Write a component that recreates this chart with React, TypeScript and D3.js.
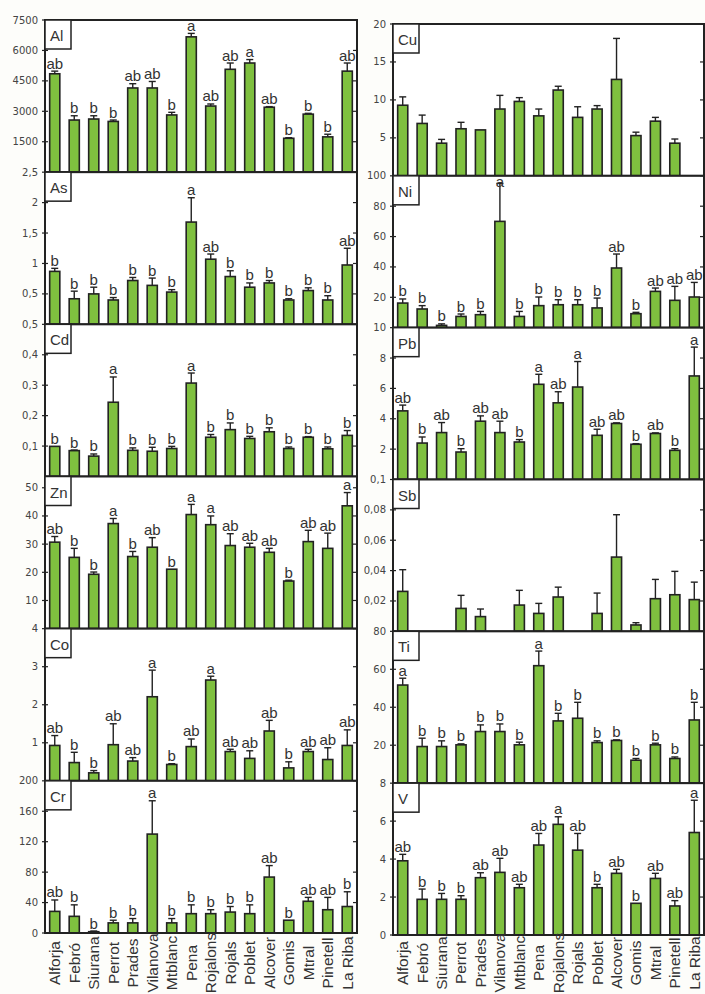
import React from "react";
import * as d3 from "d3";

const sites = ["Alforja","Febró","Siurana","Perrot","Prades","Vilanova","Mtblanc","Pena","Rojalons","Rojals","Poblet","Alcover","Gomis","Mtral","Pinetell","La Riba"];

// Left column
const alMean = [4850,2570,2620,2500,4150,4150,2820,6670,3260,5070,5380,3200,1670,2860,1740,4980];
const alSE = [130,210,160,70,210,320,130,170,100,310,170,30,30,40,130,400];
const alLet = ["ab","b","b","b","ab","ab","b","a","ab","ab","a","ab","b","b","b","ab"];
const alTicks = [1500,3000,4500,6000,7500];

const asMean = [0.87,0.42,0.5,0.4,0.72,0.64,0.53,1.68,1.07,0.785,0.61,0.68,0.4,0.555,0.4,0.975];
const asSE = [0.05,0.125,0.11,0.04,0.05,0.12,0.04,0.4,0.085,0.095,0.07,0.04,0.02,0.045,0.07,0.275];
const asLet = ["b","b","b","b","b","b","b","a","ab","b","b","b","b","b","b","ab"];
const asTicks = [0.5,1,1.5,2,2.5];

const cdMean = [0.099,0.085,0.067,0.244,0.086,0.083,0.092,0.307,0.129,0.154,0.125,0.147,0.092,0.129,0.091,0.135];
const cdSE = [0,0.002,0.007,0.083,0.008,0.013,0.007,0.033,0.009,0.022,0.007,0.013,0.005,0.002,0.006,0.016];
const cdLet = ["b","b","b","a","b","b","b","a","b","b","b","b","b","b","b","b"];
const cdTicks = [0.1,0.2,0.3,0.4,0.5];

const znMean = [30.7,25.3,19.3,37.3,25.6,28.9,21.1,40.5,36.9,29.5,28.9,27.1,16.9,30.9,28.5,43.6];
const znSE = [2,3.2,0.8,1.8,1.8,3.4,0,3.6,3.1,4.2,1.4,1.4,0.3,4,5.4,4.7];
const znLet = ["ab","b","b","a","b","ab","b","a","a","ab","ab","ab","b","ab","ab","a"];
const znTicks = [10,20,30,40,50];

const coMean = [0.93,0.48,0.21,0.95,0.52,2.21,0.43,0.9,2.65,0.77,0.59,1.31,0.34,0.77,0.56,0.93];
const coSE = [0.26,0.27,0.06,0.55,0.09,0.7,0.02,0.2,0.1,0.06,0.2,0.28,0.16,0.06,0.31,0.41];
const coLet = ["ab","b","b","ab","ab","a","b","ab","a","ab","ab","ab","b","ab","ab","ab"];
const coTicks = [1,2,3,4];

const crMean = [28.4,21.9,1.7,13.3,13.3,130,13.3,25.4,25.4,27.5,25.4,73.5,16.8,41.7,30.6,34.8];
const crSE = [15,15.1,0.9,3.5,5.7,43.8,5.7,11.6,5.2,7.3,11.6,15.1,0,5.1,16.2,19.4];
const crLet = ["ab","b","b","b","b","a","b","b","b","b","b","ab","b","ab","ab","b"];
const crTicks = [0,40,80,120,160,200];

// Right column
const cuMean = [9.3,6.9,4.3,6.2,6.05,8.8,9.8,7.9,11.3,7.7,8.8,12.7,5.3,7.2,4.3,null];
const cuSE = [1.1,1.1,0.5,0.85,0,1.8,0.5,0.9,0.5,1.4,0.45,5.4,0.45,0.5,0.55,null];
const cuTicks = [5,10,15,20];

const niMean = [16.2,12.3,1.5,7.4,8.55,70,7.4,14.5,15.1,15.1,13,39.3,9.2,23.9,18,20.2];
const niSE = [2.7,2.2,1,1.6,2.15,25,3.3,5.7,3.3,3.3,6.5,9.2,0.9,2.2,9.2,9.6];
const niLet = ["b","b","b","b","b","a","b","b","b","b","b","ab","b","ab","ab","ab"];
const niTicks = [20,40,60,80,100];

const pbMean = [4.52,2.4,3.09,1.81,3.84,3.09,2.47,6.27,5.05,6.09,2.91,3.69,2.32,3.03,1.92,6.82];
const pbSE = [0.38,0.4,0.66,0.22,0.35,0.75,0.16,0.66,0.73,1.68,0.4,0.04,0.04,0.04,0.11,1.9];
const pbLet = ["ab","b","ab","b","ab","ab","b","a","ab","a","ab","ab","b","ab","b","a"];
const pbTicks = [2,4,6,8,10];

const sbMean = [0.0263,null,null,0.0151,0.0097,null,0.0173,0.0118,0.0226,null,0.0118,0.0489,0.0042,0.0215,0.0241,0.0209];
const sbSE = [0.0143,null,null,0.0086,0.005,null,0.0097,0.0066,0.0065,null,0.0134,0.0279,0.0015,0.0127,0.0154,0.0115];
const sbTicks = [0.02,0.04,0.06,0.08,0.1];

const tiMean = [51.7,19.3,19.3,20.2,27.2,27.2,20.2,61.9,32.8,34.2,21.4,22.5,12.1,20.2,13,33.3];
const tiSE = [3.6,4.4,3,0.5,3.5,4,1.4,7.7,4,8.4,0.9,0.3,0.9,0.85,0.8,9.3];
const tiLet = ["a","b","b","b","b","b","b","a","b","b","b","b","b","b","b","b"];
const tiTicks = [20,40,60,80];

const vMean = [3.91,1.88,1.88,1.88,3.02,3.3,2.49,4.74,5.83,4.47,2.49,3.25,1.67,2.98,1.53,5.4];
const vSE = [0.34,0.54,0.31,0.19,0.26,0.74,0.18,0.61,0.4,0.88,0.18,0.21,0,0.27,0.28,1.7];
const vLet = ["ab","b","b","b","ab","ab","ab","ab","a","ab","b","ab","b","ab","ab","a"];
const vTicks = [0,2,4,6,8];

type Panel = {
  name: string; mean: (number | null)[]; se: (number | null)[]; letters: string[] | null;
  max: number; ticks: number[];
};

const leftPanels: Panel[] = [
  { name: "Al", mean: alMean, se: alSE, letters: alLet, max: 7500, ticks: alTicks },
  { name: "As", mean: asMean, se: asSE, letters: asLet, max: 2.5, ticks: asTicks },
  { name: "Cd", mean: cdMean, se: cdSE, letters: cdLet, max: 0.5, ticks: cdTicks },
  { name: "Zn", mean: znMean, se: znSE, letters: znLet, max: 54, ticks: znTicks },
  { name: "Co", mean: coMean, se: coSE, letters: coLet, max: 4, ticks: coTicks },
  { name: "Cr", mean: crMean, se: crSE, letters: crLet, max: 200, ticks: crTicks },
];
const rightPanels: Panel[] = [
  { name: "Cu", mean: cuMean, se: cuSE, letters: null, max: 20, ticks: cuTicks },
  { name: "Ni", mean: niMean, se: niSE, letters: niLet, max: 100, ticks: niTicks },
  { name: "Pb", mean: pbMean, se: pbSE, letters: pbLet, max: 10, ticks: pbTicks },
  { name: "Sb", mean: sbMean, se: sbSE, letters: null, max: 0.1, ticks: sbTicks },
  { name: "Ti", mean: tiMean, se: tiSE, letters: tiLet, max: 80, ticks: tiTicks },
  { name: "V", mean: vMean, se: vSE, letters: vLet, max: 8, ticks: vTicks },
];

const GREEN = "#7fc03f";
const DARK = "#222";
const fmt = (v: number) => String(+v.toFixed(4)).replace(".", ",");

function Column({ panels, x0, x1, top, bottom }: { panels: Panel[]; x0: number; x1: number; top: number; bottom: number }) {
  const h = (bottom - top) / panels.length;
  const x = d3.scaleBand<string>().domain(sites).range([x0, x1]).paddingInner(0.48).paddingOuter(0.24);
  const bw = x.bandwidth();
  return (
    <g>
      {panels.map((p, pi) => {
        const pt = top + pi * h;
        const pb = pt + h;
        const y = d3.scaleLinear().domain([0, p.max]).range([pb, pt]);
        return (
          <g key={p.name}>
            <rect x={x0} y={pt} width={x1 - x0} height={h} fill="#fff" />
            {p.mean.map((m, i) => {
              if (m == null) return null;
              const s = p.se[i] ?? 0;
              const cx = (x(sites[i]) as number) + bw / 2;
              const yt = y(m);
              const ye = y(m + s);
              const lab = p.letters ? p.letters[i] : null;
              const ly = Math.max(ye - 2.5, pt + 11);
              return (
                <g key={i}>
                  <rect x={x(sites[i])} y={yt} width={bw} height={pb - yt} fill={GREEN} stroke={DARK} strokeWidth={1.6} />
                  {s > 0 && (
                    <g stroke={DARK} strokeWidth={1.4}>
                      <line x1={cx} x2={cx} y1={yt} y2={ye} />
                      <line x1={cx - 3.5} x2={cx + 3.5} y1={ye} y2={ye} />
                    </g>
                  )}
                  {lab && (
                    <text x={cx} y={ly} textAnchor="middle" fontSize={15} fontFamily="Liberation Sans, Arial, sans-serif" fill="#333">{lab}</text>
                  )}
                </g>
              );
            })}
            {p.ticks.map((t) => (
              <g key={t}>
                <line x1={x0 - 3} x2={x0 + 3} y1={y(t)} y2={y(t)} stroke={DARK} strokeWidth={1.2} />
                <line x1={x1 - 4} x2={x1} y1={y(t)} y2={y(t)} stroke={DARK} strokeWidth={1.2} />
                <text x={x0 - 7} y={y(t)} dy="0.35em" textAnchor="end" fontSize={10} fontFamily="DejaVu Sans, sans-serif" fill="#444">{fmt(t)}</text>
              </g>
            ))}
            <rect x={x0} y={pt} width={x1 - x0} height={h} fill="none" stroke={DARK} strokeWidth={2} />
            <rect x={x0} y={pt} width={26} height={29} fill="#fff" stroke={DARK} strokeWidth={1.5} />
            <text x={x0 + 5} y={pt + 21} fontSize={15} fontFamily="Liberation Sans, Arial, sans-serif" fill="#333">{p.name}</text>
          </g>
        );
      })}
      {sites.map((s) => {
        const cx = (x(s) as number) + bw / 2;
        return (
          <text key={s} transform={`translate(${cx},${963}) rotate(-90)`} textAnchor="middle" dy="0.35em" fontSize={15.5} fontFamily="Liberation Sans, Arial, sans-serif" fill="#333">{s}</text>
        );
      })}
    </g>
  );
}

export default function App() {
  return (
    <div style={{ position: "absolute", left: 0, top: 0 }}>
      <svg width={705} height={994} style={{ display: "block", background: "#fdfdfa" }}>
        <Column panels={leftPanels} x0={45} x1={357} top={20} bottom={933} />
        <Column panels={rightPanels} x0={393} x1={704} top={24} bottom={935} />
      </svg>
    </div>
  );
}
